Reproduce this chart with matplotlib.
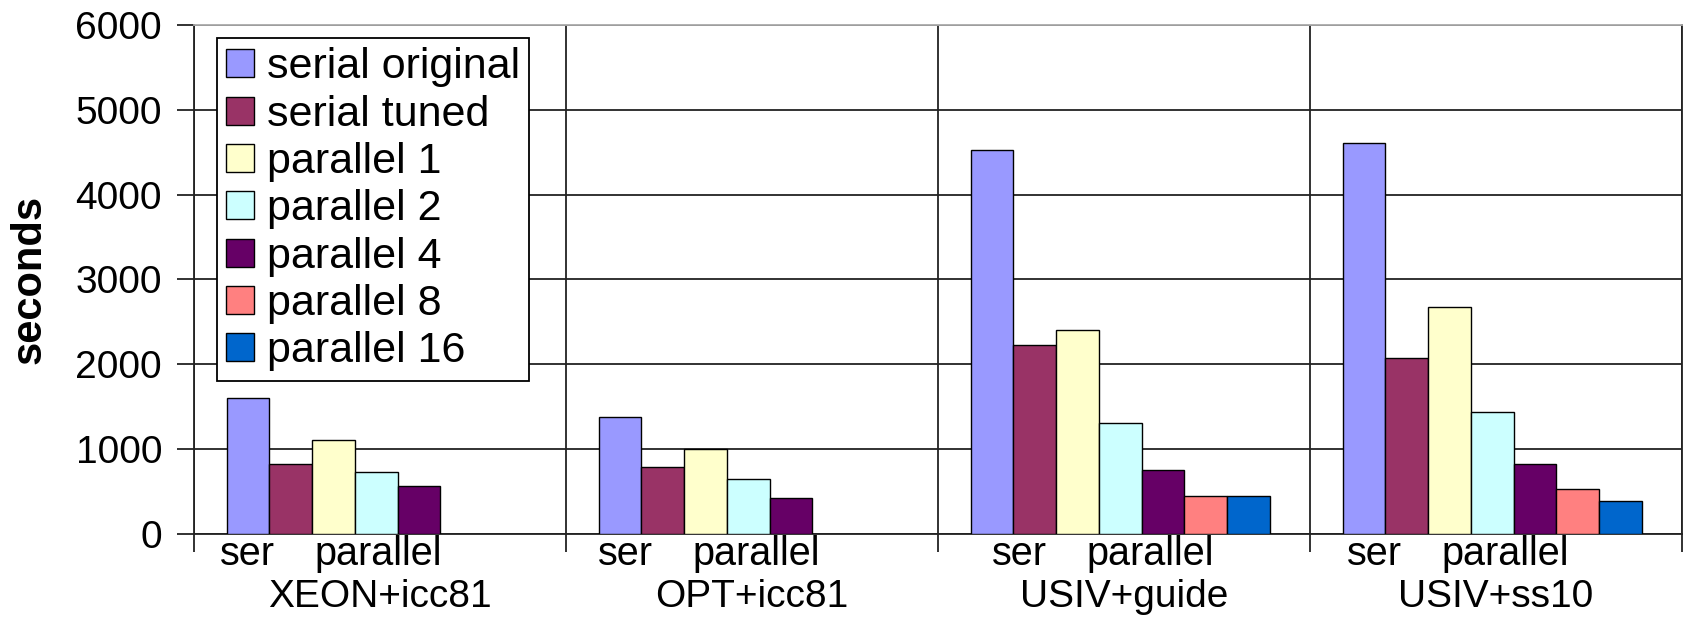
import matplotlib
matplotlib.use("Agg")
import matplotlib.pyplot as plt
import numpy as np

plt.rcParams['font.family'] = ['Liberation Sans', 'DejaVu Sans']

# run times (seconds) per platform/compiler
platforms = ['XEON+icc81', 'OPT+icc81', 'USIV+guide', 'USIV+ss10']
series = ['serial original', 'serial tuned', 'parallel 1', 'parallel 2',
          'parallel 4', 'parallel 8', 'parallel 16']
serial_original = [1600, 1370, 4520, 4610]
serial_tuned = [820, 780, 2230, 2070]
parallel_1 = [1100, 1000, 2400, 2670]
parallel_2 = [725, 640, 1300, 1430]
parallel_4 = [565, 415, 750, 820]
parallel_8 = [np.nan, np.nan, 445, 520]
parallel_16 = [np.nan, np.nan, 445, 380]

colors = ['#9999ff', '#993366', '#ffffcc', '#ccffff',
          '#660066', '#ff8080', '#0066cc']

# left edge of the hand-placed "ser  parallel" captions, per group
sub_offsets = [-0.430, -0.414, -0.355, -0.401]

values = [serial_original, serial_tuned, parallel_1, parallel_2,
          parallel_4, parallel_8, parallel_16]

fig = plt.figure(figsize=(16.87, 6.17), dpi=100)
ax = fig.add_axes([0.1150, 0.1353, 0.8820, 0.8241])

x = np.arange(len(platforms))
width = 0.115
for i, (name, vals, c) in enumerate(zip(series, values, colors)):
    ax.bar(x + (i - 3) * width - 0.01, vals, width, label=name, color=c,
           edgecolor='black', linewidth=1.0, zorder=3)

ax.set_xlim(-0.5, 3.5)
ax.set_ylim(0, 6000)
ax.set_yticks(np.arange(0, 6001, 1000))
ax.tick_params(axis='y', labelsize=28, length=12, width=1.3, pad=11,
               direction='out', color='#222222')

# category boundaries as gridlines that poke below the axis
ax.set_xticks(x)
ax.set_xticklabels(platforms, fontsize=28)
ax.set_xticks(np.arange(-0.5, 3.6, 1.0), minor=True)
ax.tick_params(axis='x', which='major', length=0, pad=33)
ax.tick_params(axis='x', which='minor', length=13, width=1.3,
               direction='out', color='#222222')

ax.grid(axis='y', which='major', color='#222222', linewidth=1.3, zorder=0)
ax.grid(axis='x', which='minor', color='#222222', linewidth=1.3, zorder=0)
ax.set_axisbelow(True)

for side in ('left', 'bottom', 'right'):
    ax.spines[side].set_color('#222222')
    ax.spines[side].set_linewidth(1.3)
ax.spines['top'].set_color('#aaaaaa')
ax.spines['top'].set_linewidth(1.3)

ax.set_ylabel('seconds', fontsize=30, fontweight='bold')
ax.yaxis.set_label_coords(-0.097, 0.5)

for xi, off in zip(x, sub_offsets):
    ax.text(xi + off, -0.0614, 'ser', transform=ax.get_xaxis_transform(),
            fontsize=28.5, ha='left', va='baseline')
    ax.text(xi + off + 0.255, -0.0614, 'parallel',
            transform=ax.get_xaxis_transform(),
            fontsize=28.5, ha='left', va='baseline')

leg = ax.legend(loc='upper left', bbox_to_anchor=(217 / 1687, 1 - 38 / 617),
                bbox_transform=fig.transFigure, borderaxespad=0,
                fontsize=31, frameon=True, fancybox=False, shadow=False,
                handlelength=0.63, handleheight=0.63, handletextpad=0.3,
                borderpad=0.22, labelspacing=0.17)
leg.get_frame().set_edgecolor('black')
leg.get_frame().set_linewidth(1.3)
leg.get_frame().set_alpha(1)

fig.savefig('out.png', dpi=100)
